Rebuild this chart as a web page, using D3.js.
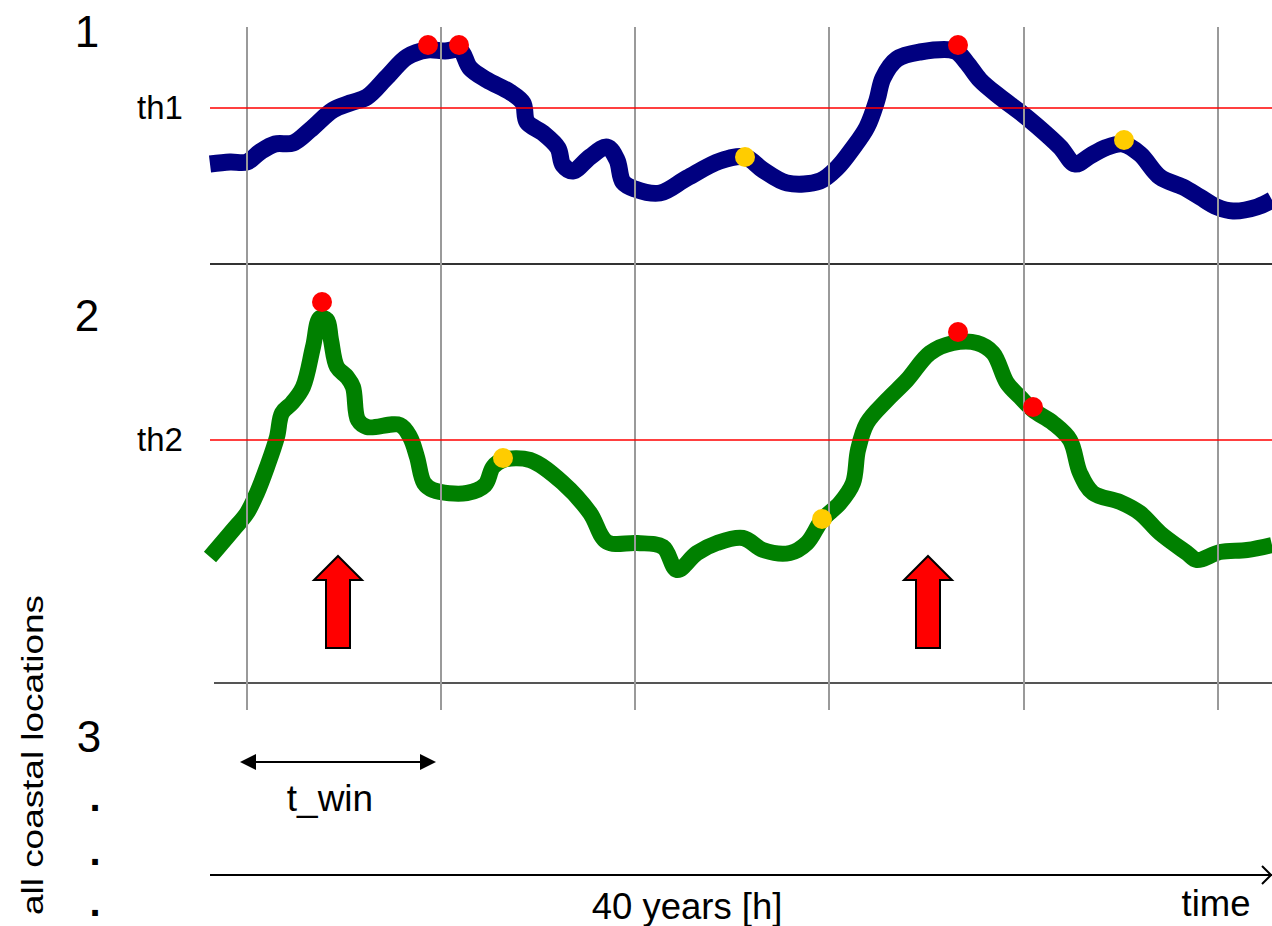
<!DOCTYPE html>
<html>
<head>
<meta charset="utf-8">
<script src="https://cdn.jsdelivr.net/npm/d3@7"></script>
<style>
  html, body { margin: 0; padding: 0; background: #fff; }
  svg { display: block; }
  text { font-family: "Liberation Sans", Arial, sans-serif; fill: #000; }
</style>
</head>
<body>
<svg id="chart" width="1272" height="926"></svg>
<script>
// ---------- data (time index, value in arbitrary panel units) ----------
const series1T = [0,20,37,50,65,83,100,123,140,157,177,197,217,235,250,260,277,300,313,317,333,348,353,363,380,397,407,413,425,450,477,510,535,553,577,610,627,643,657,667,673,687,710,745,757,770,790,810,827,850,865,880,895,913,930,950,973,990,1007,1023,1047,1062];
const series1V = [100,102,102,112,120,121,134,154,161,167,187,207,214,213,214,196,184,172,161,142,131,116,99,93,107,117,104,82,75,71,86,103,107,94,81,83,96,116,137,164,186,205,212,213,201,184,167,152,138,117,100,108,116,120,110,87,77,67,57,53,57,64];

const series2T = [0,23,37,47,57,67,72,82,93,103,110,117,121,127,137,143,148,157,190,200,207,214,223,257,275,283,293,320,353,380,397,427,453,467,487,507,533,553,580,597,612,630,643,648,657,677,697,720,743,767,783,797,810,823,843,860,870,883,910,930,950,977,987,1010,1037,1062];
const series2V = [126,153,170,190,216,246,270,280,296,336,365,363,343,316,306,296,263,256,258,246,226,200,193,190,198,216,223,223,200,170,141,140,136,113,130,140,145,133,130,140,163,180,200,233,260,283,303,330,340,340,330,300,286,273,260,243,210,190,181,170,150,130,123,131,133,138];

const thresholds = [156, 243];              // th1, th2
const thresholdLabels = ["th1", "th2"];
const panelLabels = ["1", "2", "3"];

const red1T = [218, 249, 748];   const red1V = [219, 219, 219];
const yel1T = [535, 914];        const yel1V = [107, 124];
const red2T = [112, 748, 823];   const red2V = [381, 351, 276];
const yel2T = [293, 612];        const yel2V = [225, 164];

const gridT = [37, 231, 425, 619, 814, 1008];
const arrowT = [128, 718];
const winStart = 30, winEnd = 226;

// ---------- scales ----------
const svg = d3.select("#chart");
const x = d3.scaleLinear().domain([0, 1062]).range([210, 1272]);
const y1 = d3.scaleLinear().domain([0, 244]).range([264, 20]);
const y2 = d3.scaleLinear().domain([0, 403]).range([683, 280]);

const line1 = d3.line().x((d) => x(d[0])).y((d) => y1(d[1])).curve(d3.curveCatmullRom.alpha(0.5));
const line2 = d3.line().x((d) => x(d[0])).y((d) => y2(d[1])).curve(d3.curveCatmullRom.alpha(0.5));

// panel separators
svg.append("line").attr("x1", 210).attr("x2", 1272).attr("y1", y1(0)).attr("y2", y1(0))
  .attr("stroke", "#333").attr("stroke-width", 2);
svg.append("line").attr("x1", 214).attr("x2", 1272).attr("y1", y2(0)).attr("y2", y2(0))
  .attr("stroke", "#555").attr("stroke-width", 2);

// data lines
svg.append("path").datum(series1T.map((t, i) => [t, series1V[i]]))
  .attr("d", line1).attr("fill", "none").attr("stroke", "#000080")
  .attr("stroke-width", 17).attr("stroke-linejoin", "round").attr("stroke-linecap", "butt");
svg.append("path").datum(series2T.map((t, i) => [t, series2V[i]]))
  .attr("d", line2).attr("fill", "none").attr("stroke", "#008000")
  .attr("stroke-width", 16).attr("stroke-linejoin", "round").attr("stroke-linecap", "butt");

// grid lines
svg.append("g").selectAll("line").data(gridT).join("line")
  .attr("x1", (d) => x(d)).attr("x2", (d) => x(d))
  .attr("y1", 27).attr("y2", 710)
  .attr("stroke", "#9a9a9a").attr("stroke-width", 2);

// thresholds
svg.append("line").attr("x1", 210).attr("x2", 1272).attr("y1", y1(thresholds[0])).attr("y2", y1(thresholds[0]))
  .attr("stroke", "#ff0000").attr("stroke-width", 1.6);
svg.append("line").attr("x1", 210).attr("x2", 1272).attr("y1", y2(thresholds[1])).attr("y2", y2(thresholds[1]))
  .attr("stroke", "#ff0000").attr("stroke-width", 1.6);

svg.append("text").attr("x", 137).attr("y", y1(thresholds[0]) + 11).attr("font-size", 33).text(thresholdLabels[0]);
svg.append("text").attr("x", 137).attr("y", y2(thresholds[1]) + 11).attr("font-size", 33).text(thresholdLabels[1]);

// event dots
function dots(ts, vs, ys, color) {
  svg.append("g").selectAll("circle").data(ts.map((t, i) => [t, vs[i]])).join("circle")
    .attr("cx", (d) => x(d[0])).attr("cy", (d) => ys(d[1])).attr("r", 10).attr("fill", color);
}
dots(red1T, red1V, y1, "#ff0000");
dots(yel1T, yel1V, y1, "#ffcc00");
dots(red2T, red2V, y2, "#ff0000");
dots(yel2T, yel2V, y2, "#ffcc00");

// big red up arrows
svg.append("g").selectAll("polygon").data(arrowT).join("polygon")
  .attr("points", (d) => {
    const c = x(d);
    return [[c, 556], [c + 24, 580], [c + 12, 580], [c + 12, 648], [c - 12, 648], [c - 12, 580], [c - 24, 580]]
      .map((p) => p.join(",")).join(" ");
  })
  .attr("fill", "#ff0000").attr("stroke", "#000").attr("stroke-width", 2).attr("stroke-linejoin", "miter");

// t_win double arrow
const xs = x(winStart), xe = x(winEnd);
svg.append("line").attr("x1", xs + 12).attr("x2", xe - 12).attr("y1", 762).attr("y2", 762)
  .attr("stroke", "#000").attr("stroke-width", 2);
svg.append("polygon").attr("points", `${xs},762 ${xs + 16},754 ${xs + 16},770`).attr("fill", "#000");
svg.append("polygon").attr("points", `${xe},762 ${xe - 16},754 ${xe - 16},770`).attr("fill", "#000");
svg.append("text").attr("x", 330).attr("y", 811).attr("text-anchor", "middle")
  .attr("font-size", 37).text("t_win");

// time axis
svg.append("line").attr("x1", 210).attr("x2", 1272).attr("y1", 875).attr("y2", 875)
  .attr("stroke", "#000").attr("stroke-width", 2);
svg.append("polyline").attr("points", "1262,866 1271,875 1262,884")
  .attr("fill", "none").attr("stroke", "#000").attr("stroke-width", 2);
svg.append("text").attr("x", 687).attr("y", 919).attr("text-anchor", "middle").attr("font-size", 36.5).text("40 years [h]");
svg.append("text").attr("x", 1216).attr("y", 916).attr("text-anchor", "middle").attr("font-size", 36.5).text("time");

// panel numbers
svg.append("text").attr("x", 87).attr("y", 47).attr("text-anchor", "middle").attr("font-size", 44).text(panelLabels[0]);
svg.append("text").attr("x", 87).attr("y", 331).attr("text-anchor", "middle").attr("font-size", 44).text(panelLabels[1]);
svg.append("text").attr("x", 89).attr("y", 752).attr("text-anchor", "middle").attr("font-size", 44).text(panelLabels[2]);
[811, 865, 916].forEach((yy) => {
  svg.append("text").attr("x", 95).attr("y", yy).attr("text-anchor", "middle")
    .attr("font-size", 40).attr("font-weight", "bold").text(".");
});

// vertical label
svg.append("text").attr("transform", "translate(43,755) rotate(-90)")
  .attr("text-anchor", "middle").attr("font-size", 29)
  .attr("textLength", 320).attr("lengthAdjust", "spacingAndGlyphs")
  .text("all coastal locations");
</script>
</body>
</html>
